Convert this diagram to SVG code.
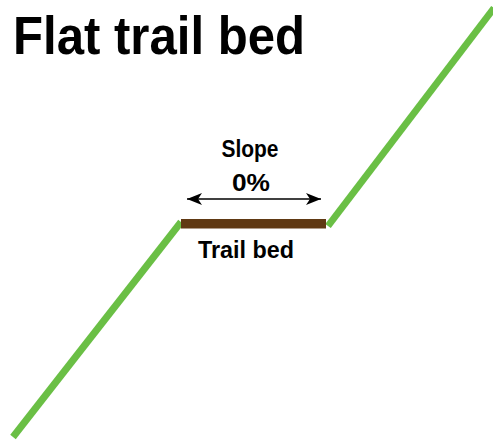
<svg xmlns="http://www.w3.org/2000/svg" width="493" height="443" viewBox="0 0 493 443">
  <style>
    .lbl { font-family: "Liberation Sans", Arial, sans-serif; font-weight: bold; fill: #000; }
    .ground { stroke: #6abf45; stroke-width: 7; fill: none; }
  </style>
  <defs>
    <marker id="ah" markerUnits="userSpaceOnUse" markerWidth="20" markerHeight="16" viewBox="-16 -8 20 16" refX="0" refY="0" orient="auto-start-reverse">
      <path d="M0,0 L-15,-6 L-11,0 L-15,6 Z" fill="#000"/>
    </marker>
  </defs>
  <rect width="493" height="443" fill="#fff"/>
  <text class="lbl" x="13" y="54" font-size="53" textLength="292" lengthAdjust="spacingAndGlyphs">Flat trail bed</text>
  <g id="ground">
    <line class="ground" x1="13" y1="437" x2="181" y2="222"/>
    <line class="ground" x1="328" y1="226" x2="494" y2="8"/>
  </g>
  <g id="trail-bed">
    <rect x="181" y="219" width="145" height="9.5" fill="#603913"/>
    <text class="lbl" x="246" y="258" font-size="23" text-anchor="middle" textLength="96" lengthAdjust="spacingAndGlyphs">Trail bed</text>
  </g>
  <g id="connectors">
    <line x1="187" y1="199" x2="321" y2="199" stroke="#000" stroke-width="1.6" marker-start="url(#ah)" marker-end="url(#ah)"/>
  </g>
  <g id="slope-label">
    <text class="lbl" x="250" y="157" font-size="23" text-anchor="middle" textLength="57" lengthAdjust="spacingAndGlyphs">Slope</text>
    <text class="lbl" x="251" y="191" font-size="24" text-anchor="middle" textLength="38" lengthAdjust="spacingAndGlyphs">0%</text>
  </g>
</svg>
